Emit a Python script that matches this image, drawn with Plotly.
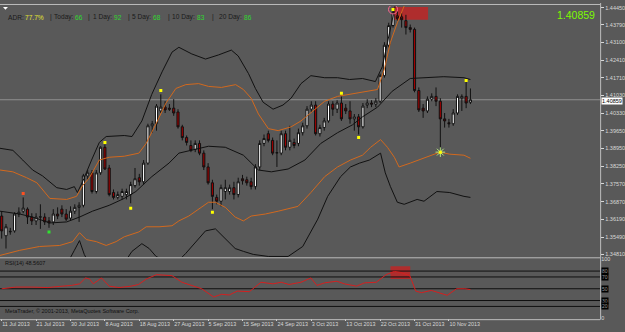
import plotly.graph_objects as go

W, H = 625, 332

# ---------------- data ----------------
opens = [1.3631, 1.3554, 1.3569, 1.3573, 1.3639, 1.3650, 1.3658, 1.3627, 1.3612, 1.3627,
         1.3627, 1.3612, 1.3608, 1.3639, 1.3658, 1.3639, 1.3623, 1.3650, 1.3665, 1.3673,
         1.3788, 1.3800, 1.3727, 1.3800, 1.3900, 1.3819, 1.3723, 1.3704, 1.3708, 1.3715,
         1.3715, 1.3750, 1.3781, 1.3765, 1.3838, 1.3984, 1.3992, 1.4042, 1.4057, 1.4053,
         1.4053, 1.4038, 1.3980, 1.3938, 1.3907, 1.3892, 1.3915, 1.3877, 1.3823, 1.3761,
         1.3704, 1.3689, 1.3727, 1.3727, 1.3742, 1.3715, 1.3777, 1.3773, 1.3765, 1.3746,
         1.3823, 1.3915, 1.3953, 1.3927, 1.3877, 1.3877, 1.3953, 1.3900, 1.3919, 1.3915,
         1.3957, 1.3984, 1.4049, 1.4065, 1.3953, 1.3977, 1.4003, 1.4069, 1.4049, 1.4073,
         1.4053, 1.4042, 1.4011, 1.4019, 1.3980, 1.4065, 1.4073, 1.4069, 1.4080, 1.4180,
         1.4299, 1.4376, 1.4414, 1.4410, 1.4395, 1.4368, 1.4361, 1.4122, 1.4053, 1.4042,
         1.4088, 1.4099, 1.4080, 1.4011, 1.3996, 1.3992, 1.4034, 1.4092, 1.4099, 1.4076]
highs = [1.3650, 1.3600, 1.3585, 1.3646, 1.3665, 1.3704, 1.3665, 1.3642, 1.3642, 1.3677,
         1.3642, 1.3627, 1.3658, 1.3665, 1.3673, 1.3658, 1.3669, 1.3677, 1.3685, 1.3796,
         1.3811, 1.3811, 1.3811, 1.3904, 1.3911, 1.3831, 1.3735, 1.3727, 1.3738, 1.3738,
         1.3765, 1.3819, 1.3796, 1.3850, 1.3992, 1.4003, 1.4069, 1.4107, 1.4080, 1.4069,
         1.4088, 1.4049, 1.3988, 1.3946, 1.3927, 1.3927, 1.3927, 1.3888, 1.3838, 1.3773,
         1.3715, 1.3754, 1.3773, 1.3754, 1.3765, 1.3781, 1.3792, 1.3785, 1.3781, 1.3834,
         1.3927, 1.3950, 1.3965, 1.3938, 1.3927, 1.3965, 1.3965, 1.3984, 1.3934, 1.3973,
         1.3996, 1.4061, 1.4080, 1.4080, 1.3988, 1.4015, 1.4080, 1.4080, 1.4084, 1.4099,
         1.4069, 1.4080, 1.4030, 1.4030, 1.4073, 1.4088, 1.4084, 1.4092, 1.4188, 1.4311,
         1.4387, 1.4445, 1.4433, 1.4426, 1.4418, 1.4380, 1.4368, 1.4134, 1.4069, 1.4099,
         1.4111, 1.4134, 1.4092, 1.4034, 1.4011, 1.4049, 1.4107, 1.4107, 1.4157, 1.4130]
lows = [1.3543, 1.3504, 1.3558, 1.3566, 1.3627, 1.3642, 1.3600, 1.3596, 1.3596, 1.3581,
        1.3596, 1.3585, 1.3596, 1.3619, 1.3627, 1.3612, 1.3612, 1.3639, 1.3608, 1.3665,
        1.3773, 1.3719, 1.3719, 1.3792, 1.3811, 1.3708, 1.3696, 1.3696, 1.3696, 1.3696,
        1.3681, 1.3742, 1.3750, 1.3754, 1.3831, 1.3957, 1.3965, 1.4034, 1.4034, 1.4042,
        1.4023, 1.3973, 1.3927, 1.3907, 1.3881, 1.3881, 1.3869, 1.3811, 1.3754, 1.3658,
        1.3677, 1.3669, 1.3696, 1.3715, 1.3696, 1.3704, 1.3754, 1.3750, 1.3735, 1.3735,
        1.3811, 1.3904, 1.3919, 1.3869, 1.3823, 1.3869, 1.3888, 1.3888, 1.3896, 1.3904,
        1.3946, 1.3973, 1.4038, 1.3946, 1.3942, 1.3965, 1.3996, 1.4023, 1.4034, 1.4003,
        1.4030, 1.3992, 1.3965, 1.3950, 1.3973, 1.4053, 1.4057, 1.4057, 1.4073, 1.4172,
        1.4291, 1.4368, 1.4395, 1.4368, 1.4341, 1.4349, 1.4115, 1.4038, 1.4015, 1.4034,
        1.4080, 1.4061, 1.3884, 1.3977, 1.3977, 1.3984, 1.4026, 1.4042, 1.4053, 1.4069]
closes = [1.3573, 1.3589, 1.3571, 1.3639, 1.3646, 1.3662, 1.3627, 1.3612, 1.3627, 1.3628,
          1.3608, 1.3604, 1.3639, 1.3631, 1.3639, 1.3619, 1.3650, 1.3665, 1.3673, 1.3788,
          1.3800, 1.3727, 1.3800, 1.3900, 1.3815, 1.3715, 1.3704, 1.3715, 1.3727, 1.3727,
          1.3754, 1.3777, 1.3765, 1.3838, 1.3984, 1.3992, 1.4061, 1.4057, 1.4046, 1.4049,
          1.4034, 1.3980, 1.3938, 1.3919, 1.3888, 1.3915, 1.3877, 1.3823, 1.3761, 1.3708,
          1.3689, 1.3742, 1.3742, 1.3742, 1.3715, 1.3765, 1.3769, 1.3761, 1.3746, 1.3823,
          1.3915, 1.3934, 1.3927, 1.3877, 1.3879, 1.3953, 1.3900, 1.3927, 1.3907, 1.3957,
          1.3984, 1.4049, 1.4065, 1.3953, 1.3977, 1.4003, 1.4069, 1.4049, 1.4073, 1.4011,
          1.4042, 1.4011, 1.4019, 1.3980, 1.4061, 1.4073, 1.4069, 1.4080, 1.4180, 1.4299,
          1.4376, 1.4426, 1.4403, 1.4399, 1.4368, 1.4361, 1.4122, 1.4046, 1.4042, 1.4088,
          1.4099, 1.4080, 1.4011, 1.4003, 1.3992, 1.4034, 1.4099, 1.4099, 1.4073, 1.40859]
bars = list(range(len(closes)))

# Bollinger-type lines, read as knots (bar position, price)
mid_x = [-0.4, 4.2, 7.2, 11.2, 15.1, 18.1, 21.1, 25.0, 28.5, 31.2, 34.9, 38.9, 41.2, 44.2, 48.1, 52.0,
         56.2, 59.7, 62.7, 66.6, 70.5, 74.2, 78.1, 81.6, 83.9, 87.4, 90.8, 95.0, 98.2, 102.8, 107.5, 109.0]
mid_y = [1.3650, 1.3639, 1.3627, 1.3604, 1.3608, 1.3627, 1.3650, 1.3673, 1.3700, 1.3727, 1.3785, 1.3838,
         1.3877, 1.3888, 1.3904, 1.3900, 1.3869, 1.3811, 1.3804, 1.3815, 1.3850, 1.3915, 1.3957, 1.3988,
         1.4019, 1.4057, 1.4119, 1.4169, 1.4172, 1.4176, 1.4172, 1.4165]

up_in_x = [-0.4, 2.6, 5.8, 8.2, 11.2, 15.1, 17.4, 18.8, 20.4, 22.7, 25.0, 28.5, 31.9, 33.6, 35.9, 38.2,
           40.5, 42.8, 45.8, 48.1, 51.1, 54.4, 56.2, 58.0, 59.7, 62.0, 64.3, 67.3, 69.6, 71.9, 75.1, 78.1,
           81.1, 83.9, 85.8, 87.4, 89.0, 90.4, 92.0, 93.6, 94.3]
up_in_y = [1.3811, 1.3804, 1.3781, 1.3761, 1.3700, 1.3696, 1.3708, 1.3750, 1.3781, 1.3850, 1.3861, 1.3865,
           1.3877, 1.3915, 1.3992, 1.4073, 1.4130, 1.4145, 1.4149, 1.4138, 1.4134, 1.4145, 1.4126, 1.4092,
           1.4030, 1.3973, 1.3965, 1.3980, 1.4003, 1.4034, 1.4080, 1.4099, 1.4107, 1.4115, 1.4119, 1.4126,
           1.4207, 1.4311, 1.4387, 1.4453, 1.4503]

up_out_x = [-0.4, 2.6, 4.9, 7.2, 9.5, 12.8, 15.1, 16.9, 17.6, 18.8, 20.9, 22.7, 24.3, 28.5, 30.3, 32.6,
            34.9, 37.3, 39.6, 41.2, 44.2, 47.4, 50.4, 53.4, 55.0, 57.4, 59.0, 60.8, 63.1, 65.4, 67.3, 69.6,
            71.9, 75.1, 78.1, 80.9, 83.9, 86.9, 88.5, 90.1, 91.5, 92.4]
up_out_y = [1.3896, 1.3888, 1.3850, 1.3811, 1.3788, 1.3742, 1.3735, 1.3746, 1.3723, 1.3765, 1.3850, 1.3919,
            1.3942, 1.3946, 1.3942, 1.4003, 1.4107, 1.4195, 1.4272, 1.4291, 1.4265, 1.4245, 1.4261, 1.4280,
            1.4257, 1.4188, 1.4130, 1.4076, 1.4049, 1.4065, 1.4092, 1.4149, 1.4180, 1.4172, 1.4172, 1.4165,
            1.4169, 1.4157, 1.4215, 1.4349, 1.4464, 1.4522]

lo_in_x = [-0.4, 4.2, 8.8, 13.5, 16.5, 18.1, 19.7, 22.0, 24.3, 26.6, 28.5, 31.9, 33.6, 36.6, 39.6, 41.2,
           43.5, 45.8, 48.1, 49.7, 52.0, 54.3, 56.2, 58.0, 61.3, 64.3, 68.9, 71.9, 75.1, 78.1, 81.1, 83.9,
           85.8, 88.1, 89.7, 91.3, 92.4, 95.0, 98.2, 101.9, 104.2, 107.5, 109.0]
lo_in_y = [1.3477, 1.3497, 1.3512, 1.3516, 1.3531, 1.3566, 1.3539, 1.3531, 1.3516, 1.3531, 1.3550, 1.3569,
           1.3589, 1.3589, 1.3593, 1.3612, 1.3631, 1.3658, 1.3685, 1.3685, 1.3665, 1.3627, 1.3612, 1.3631,
           1.3639, 1.3650, 1.3669, 1.3723, 1.3785, 1.3823, 1.3850, 1.3869, 1.3900, 1.3930, 1.3900, 1.3861,
           1.3823, 1.3838, 1.3857, 1.3881, 1.3873, 1.3869, 1.3857]

lo_out_x = [12.3, 15.3, 16.9, 18.1, 19.2, 21.5, 26.2, 28.9, 30.3, 32.6, 34.3, 35.9, 37.7, 41.2, 42.8, 45.1,
            47.4, 49.7, 52.0, 54.3, 56.2, 58.5, 62.0, 66.6, 70.0, 73.5, 75.8, 78.8, 81.1, 83.2, 85.5, 88.1,
            89.2, 90.4, 92.0, 93.6, 96.6, 98.2, 101.2, 104.2, 107.5, 109.0]
lo_out_y = [1.3389, 1.3447, 1.3497, 1.3535, 1.3481, 1.3408, 1.3408, 1.3458, 1.3493, 1.3523, 1.3504, 1.3473,
            1.3458, 1.3458, 1.3485, 1.3531, 1.3573, 1.3581, 1.3543, 1.3504, 1.3493, 1.3481, 1.3473, 1.3473,
            1.3512, 1.3619, 1.3708, 1.3785, 1.3823, 1.3838, 1.3850, 1.3877, 1.3800, 1.3746, 1.3685, 1.3677,
            1.3696, 1.3689, 1.3727, 1.3723, 1.3708, 1.3704]

rsi_x = [0.0, 3.3, 7.0, 10.7, 13.5, 16.2, 18.1, 19.5, 20.4, 21.3, 23.2, 25.0, 27.3, 30.1, 31.8, 33.7,
         36.0, 38.2, 39.6, 41.9, 44.6, 46.5, 49.3, 51.1, 52.9, 54.8, 57.6, 60.3, 63.1, 65.0, 66.8, 69.6,
         71.9, 73.3, 75.1, 77.9, 79.7, 82.5, 84.4, 87.1, 89.4, 91.3, 92.7, 94.9, 96.3, 97.6, 99.9, 101.8,
         103.6, 105.8, 107.7, 109.0]
rsi_y = [50.0, 52.8, 52.8, 52.0, 54.0, 55.6, 58.3, 68.3, 66.7, 58.3, 68.3, 54.4, 52.0, 54.4, 57.2, 66.7,
         73.9, 72.2, 72.2, 61.0, 54.4, 50.0, 36.0, 40.6, 39.4, 46.0, 45.0, 61.0, 58.3, 61.0, 57.2, 61.0,
         68.3, 55.6, 60.0, 62.8, 58.3, 54.4, 60.0, 61.0, 73.9, 79.4, 77.8, 72.2, 46.0, 43.3, 47.2, 43.3,
         38.9, 50.0, 50.0, 48.56]
rsi_levels = [80, 70, 50, 30, 20]

frac_up_x = [24, 37, 79, 91, 108]
frac_up_y = [1.3919, 1.4122, 1.4111, 1.4439, 1.4161]
frac_dn_x = [30, 49, 83, 102]
frac_dn_y = [1.3662, 1.3646, 1.3938, 1.3881]
red_dot = (5, 1.3719)
green_dot = (11, 1.3569)

price_ticks = [1.44450, 1.43790, 1.43100, 1.42410, 1.41710, 1.41030, 1.40330, 1.39650,
               1.38950, 1.38250, 1.37570, 1.36870, 1.36190, 1.35490, 1.34810]
date_pos = [0, 8, 16, 24, 32, 40, 48, 56, 64, 72, 80, 88, 96, 104]
date_labels = ["11 Jul 2013", "21 Jul 2013", "30 Jul 2013", "8 Aug 2013", "18 Aug 2013",
               "27 Aug 2013", "5 Sep 2013", "15 Sep 2013", "24 Sep 2013", "3 Oct 2013",
               "13 Oct 2013", "22 Oct 2013", "31 Oct 2013", "10 Nov 2013"]
last_price = 1.40859
rsi_last = 48.5607

# zones drawn on the chart
zone_main = dict(x0=91.06, x1=99.15, y0=1.4399, y1=1.4449)
zone_rsi = dict(x0=90.4, x1=95.0, y0=66.7, y1=88.3)

# ---------------- styling ----------------
BG = "#595959"
FONT = "Liberation Sans"
AX = "#d8d8d8"
ORANGE = "#d2691e"
BLACK = "#111111"

XR = [-0.393, 139.16]
def fy(px):  # paper y from pixel row
    return 1 - px / H
def fx(px):
    return px / W

fig = go.Figure()

fig.add_trace(go.Candlestick(
    x=bars, open=opens, high=highs, low=lows, close=closes,
    increasing=dict(fillcolor="#ffffff", line=dict(color=BLACK, width=1)),
    decreasing=dict(fillcolor="#a00000", line=dict(color=BLACK, width=1)),
    whiskerwidth=0, xaxis="x", yaxis="y", hoverinfo="skip"))

for xs, ys, col in [(up_out_x, up_out_y, BLACK), (lo_out_x, lo_out_y, BLACK),
                    (up_in_x, up_in_y, ORANGE), (lo_in_x, lo_in_y, ORANGE),
                    (mid_x, mid_y, BLACK)]:
    fig.add_trace(go.Scatter(x=xs, y=ys, mode="lines", line=dict(color=col, width=1),
                             xaxis="x", yaxis="y", hoverinfo="skip"))

# markers
fig.add_trace(go.Scatter(x=[frac_up_x[3]], y=[frac_up_y[3]], mode="markers",
                         marker=dict(symbol="circle-open", size=9, line=dict(color="#ff2020", width=1)),
                         xaxis="x", yaxis="y"))
fig.add_trace(go.Scatter(x=[frac_dn_x[3]], y=[frac_dn_y[3]], mode="markers",
                         marker=dict(symbol="asterisk-open", size=8, line=dict(color="#ffffff", width=1)),
                         xaxis="x", yaxis="y"))
fig.add_trace(go.Scatter(x=frac_up_x + frac_dn_x, y=frac_up_y + frac_dn_y, mode="markers",
                         marker=dict(symbol="square", size=3, color="#ffff00", line=dict(width=0)),
                         xaxis="x", yaxis="y"))
fig.add_trace(go.Scatter(x=[red_dot[0]], y=[red_dot[1]], mode="markers",
                         marker=dict(symbol="square", size=3, color="#ff5020", line=dict(width=0)),
                         xaxis="x", yaxis="y"))
fig.add_trace(go.Scatter(x=[green_dot[0]], y=[green_dot[1]], mode="markers",
                         marker=dict(symbol="square", size=3, color="#30e030", line=dict(width=0)),
                         xaxis="x", yaxis="y"))

# RSI
fig.add_trace(go.Scatter(x=rsi_x, y=rsi_y, mode="lines", line=dict(color="#d42020", width=1),
                         xaxis="x2", yaxis="y2"))

shapes = []
# current price line
shapes.append(dict(type="line", xref="x", yref="y", x0=XR[0], x1=XR[1], y0=last_price, y1=last_price,
                   line=dict(color="#8f8f8f", width=1), layer="below"))
# zones
shapes.append(dict(type="rect", xref="x", yref="y", **zone_main,
                   fillcolor="rgba(220,23,23,0.66)", line=dict(width=0), layer="below"))
shapes.append(dict(type="rect", xref="x2", yref="y2", **zone_rsi,
                   fillcolor="rgba(220,23,23,0.66)", line=dict(width=0), layer="below"))
# RSI levels
for lv in rsi_levels:
    shapes.append(dict(type="line", xref="x2", yref="y2", x0=XR[0], x1=XR[1], y0=lv, y1=lv,
                       line=dict(color="#101010", width=1), layer="below"))
# frame lines
for py in [1.5, 259.5, 322.5]:
    shapes.append(dict(type="line", xref="paper", yref="paper", x0=0, x1=fx(604), y0=fy(py), y1=fy(py),
                       line=dict(color="#bdbdbd", width=1)))
shapes.append(dict(type="line", xref="paper", yref="paper", x0=fx(604.5), x1=fx(604.5), y0=fy(322.5), y1=fy(0),
                   line=dict(color="#bdbdbd", width=1)))
# small menu triangle
shapes.append(dict(type="path", xref="paper", yref="paper",
                   path=f"M {fx(3)} {fy(4)} L {fx(8)} {fy(4)} L {fx(5.5)} {fy(7)} Z",
                   fillcolor="#ffffff", line=dict(width=0)))

ann = []
hdr = [("ADR:", 6, "#1a1a1a"), ("77.7%", 23, "#e2e232"), ("|", 48, "#1a1a1a"), ("Today:", 52, "#1a1a1a"),
       ("66", 73, "#2fd82f"), ("|", 87, "#1a1a1a"), ("1 Day:", 92, "#1a1a1a"), ("92", 113, "#2fd82f"),
       ("|", 127, "#1a1a1a"), ("5 Day:", 131, "#1a1a1a"), ("68", 152, "#2fd82f"), ("|", 167, "#1a1a1a"),
       ("10 Day:", 171, "#1a1a1a"), ("83", 196, "#2fd82f"), ("|", 211, "#1a1a1a"), ("20 Day:", 218, "#1a1a1a"),
       ("86", 244, "#2fd82f")]
for t, px, c in hdr:
    ann.append(dict(text=t, x=fx(px), y=fy(14.5), xref="paper", yref="paper", xanchor="left", yanchor="middle",
                    showarrow=False, font=dict(family=FONT, size=6.6, color=c)))
ann.append(dict(text=f"{last_price:.5f}", x=fx(601), y=fy(12), xref="paper", yref="paper", xanchor="right",
                yanchor="middle", showarrow=False, font=dict(family=FONT, size=10.5, color="#7cfc00")))
ann.append(dict(text=f"{last_price:.5f}", x=fx(605), y=last_price, xref="paper", yref="y", xanchor="left",
                yanchor="top", yshift=3, showarrow=False, bgcolor="#ffffff", borderpad=0,
                font=dict(family=FONT, size=5.5, color="#000000")))
ann.append(dict(text=f"RSI(14) {rsi_last:.4f}", x=fx(3), y=fy(265), xref="paper", yref="paper",
                xanchor="left", yanchor="middle", showarrow=False, font=dict(family=FONT, size=5.5, color="#111111")))
ann.append(dict(text="MetaTrader, © 2001-2013, MetaQuotes Software Corp.", x=fx(3), y=fy(313.5), xref="paper",
                yref="paper", xanchor="left", yanchor="middle", showarrow=False,
                font=dict(family=FONT, size=5.5, color="#111111")))
for lv in rsi_levels:
    ann.append(dict(text=str(lv), x=fx(605), y=lv, xref="paper", yref="y2", xanchor="left", yanchor="middle",
                    showarrow=False, bgcolor="#000000", borderpad=0,
                    font=dict(family=FONT, size=5, color="#9a9a9a")))

fig.update_layout(
    width=W, height=H, margin=dict(l=0, r=0, t=0, b=0),
    paper_bgcolor=BG, plot_bgcolor=BG, showlegend=False, hovermode=False,
    shapes=shapes, annotations=ann,
    xaxis=dict(domain=[0, fx(604)], range=XR, anchor="y", showticklabels=False, showgrid=False,
               zeroline=False, showline=False, ticks="", rangeslider=dict(visible=False), fixedrange=True),
    yaxis=dict(domain=[fy(259), fy(3)], range=[1.346964, 1.445268], side="right", anchor="x",
               tickvals=price_ticks, ticktext=[f"{v:.5f}" for v in price_ticks],
               tickfont=dict(family=FONT, size=5.5, color=AX), ticks="outside", ticklen=3, tickcolor=AX,
               showgrid=False, zeroline=False, showline=False),
    xaxis2=dict(domain=[0, fx(604)], range=XR, anchor="y2", tickvals=date_pos, ticktext=date_labels,
                tickangle=0, ticklabelposition="outside right", tickfont=dict(family=FONT, size=5.4, color=AX),
                ticks="outside", ticklen=2, tickcolor=AX, showgrid=False, zeroline=False, showline=False),
    yaxis2=dict(domain=[fy(321), fy(261)], range=[0, 100], side="right", anchor="x2",
                tickvals=[0, 100], ticktext=["0", "100"], tickfont=dict(family=FONT, size=5.5, color=AX),
                ticks="", showgrid=False, zeroline=False, showline=False),
)

fig.write_html("out.html")
